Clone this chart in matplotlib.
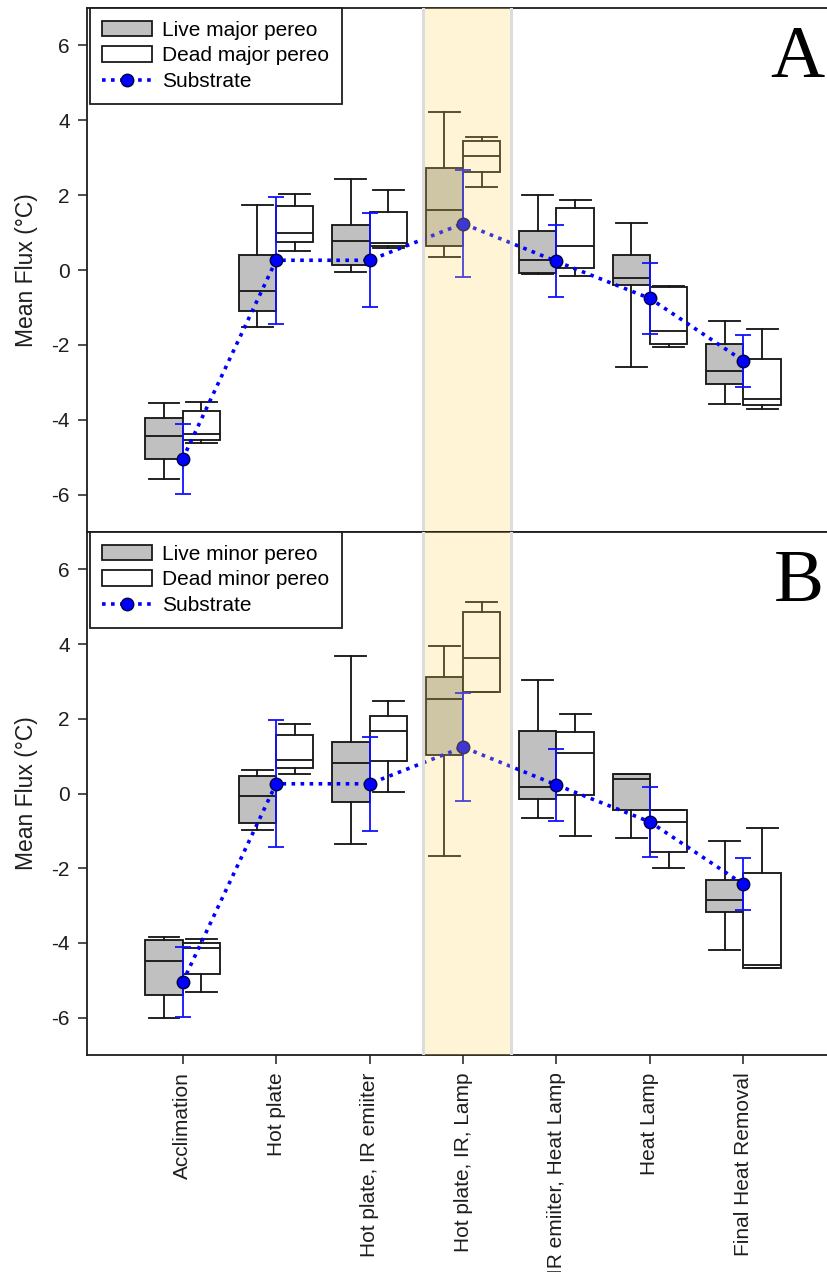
import matplotlib
matplotlib.use("Agg")
import matplotlib.pyplot as plt
from matplotlib.patches import Patch
from matplotlib.lines import Line2D

plt.rcParams["font.family"] = ["Liberation Sans", "DejaVu Sans"]
plt.rcParams["axes.unicode_minus"] = False

categories = ["Acclimation", "Hot plate", "Hot plate, IR emiiter", "Hot plate, IR, Lamp",
              "IR emiiter, Heat Lamp", "Heat Lamp", "Final Heat Removal"]

# Panel A - major pereo
live_major_whislo = [-5.59, -1.52, -0.06, 0.35, -0.12, -2.58, -3.57]
live_major_q1 = [-5.06, -1.09, 0.13, 0.64, -0.08, -0.40, -3.05]
live_major_med = [-4.43, -0.57, 0.78, 1.61, 0.26, -0.21, -2.70]
live_major_q3 = [-3.95, 0.39, 1.21, 2.73, 1.04, 0.39, -1.97]
live_major_whishi = [-3.56, 1.74, 2.43, 4.22, 2.00, 1.25, -1.36]

dead_major_whislo = [-4.63, 0.52, 0.60, 2.21, -0.17, -2.05, -3.71]
dead_major_q1 = [-4.55, 0.74, 0.63, 2.61, 0.05, -1.97, -3.62]
dead_major_med = [-4.37, 1.00, 0.72, 3.04, 0.65, -1.62, -3.44]
dead_major_q3 = [-3.77, 1.70, 1.55, 3.44, 1.65, -0.45, -2.39]
dead_major_whishi = [-3.52, 2.02, 2.13, 3.56, 1.87, -0.43, -1.57]

# Panel B - minor pereo
live_minor_whislo = [-6.01, -0.97, -1.35, -1.66, -0.65, -1.19, -4.18]
live_minor_q1 = [-5.40, -0.79, -0.23, 1.03, -0.14, -0.44, -3.17]
live_minor_med = [-4.48, -0.08, 0.82, 2.52, 0.17, 0.40, -2.84]
live_minor_q3 = [-3.91, 0.48, 1.38, 3.12, 1.68, 0.52, -2.31]
live_minor_whishi = [-3.85, 0.64, 3.68, 3.95, 3.04, 0.52, -1.27]

dead_minor_whislo = [-5.32, 0.52, 0.03, 2.73, -1.14, -2.00, -4.67]
dead_minor_q1 = [-4.84, 0.69, 0.86, 2.73, -0.05, -1.57, -4.67]
dead_minor_med = [-4.14, 0.91, 1.68, 3.64, 1.08, -0.75, -4.59]
dead_minor_q3 = [-4.01, 1.56, 2.08, 4.87, 1.64, -0.45, -2.13]
dead_minor_whishi = [-3.89, 1.86, 2.47, 5.12, 2.13, -0.45, -0.92]

# Substrate mean +/- error
substrate_mean = [-5.05, 0.26, 0.26, 1.24, 0.23, -0.76, -2.43]
substrate_err = [0.94, 1.70, 1.26, 1.44, 0.96, 0.94, 0.70]

legend_labels_A = ["Live major pereo", "Dead major pereo", "Substrate"]
legend_labels_B = ["Live minor pereo", "Dead minor pereo", "Substrate"]

W, H = 827, 1272
fig = plt.figure(figsize=(W / 100, H / 100), dpi=100)

left_px, right_px = 87.3, 835.0
def axes_rect(top_px, bot_px):
    return [left_px / W, 1 - bot_px / H, (right_px - left_px) / W, (bot_px - top_px) / H]

axA = fig.add_axes(axes_rect(8, 532))
axB = fig.add_axes(axes_rect(532, 1055))

positions = list(range(1, len(categories) + 1))
EDGE = "#1a1a1a"
LIVE_FC = "#c0c0c0"

def stats_list(wl, q1, med, q3, wh):
    return [dict(whislo=a, q1=b, med=c, q3=d, whishi=e, fliers=[])
            for a, b, c, d, e in zip(wl, q1, med, q3, wh)]

def draw_panel(ax, live, dead, labels, letter):
    lw = 1.35
    common = dict(widths=0.4, capwidths=0.33, patch_artist=True, showfliers=False,
                  medianprops=dict(color=EDGE, lw=lw),
                  whiskerprops=dict(color=EDGE, lw=lw),
                  capprops=dict(color=EDGE, lw=lw), manage_ticks=False)
    ax.bxp(stats_list(*live), positions=[p - 0.2 for p in positions],
           boxprops=dict(facecolor=LIVE_FC, edgecolor=EDGE, lw=lw), **common)
    ax.bxp(stats_list(*dead), positions=[p + 0.2 for p in positions],
           boxprops=dict(facecolor="white", edgecolor=EDGE, lw=lw), **common)
    ax.errorbar(positions, substrate_mean, yerr=substrate_err, fmt="none",
                ecolor="#1010ff", elinewidth=1.3, capsize=5.8, capthick=1.3, zorder=4)
    ax.plot(positions, substrate_mean, color="#0000ff", lw=2.6, ls=(0, (1, 1.5)),
            marker="o", ms=9, mfc="#0000ff", mec="#000040", mew=1.0, zorder=5)

    # highlighted period
    ax.axvspan(3.57, 4.51, color="#ffd85c", alpha=0.25, lw=0, zorder=10)
    for xv in (3.57, 4.51):
        ax.axvline(xv, color="#dcdce0", lw=2.2, zorder=10)

    ax.set_xlim(-0.02, 7.98)
    ax.set_ylim(-7, 7)
    ax.set_yticks([-6, -4, -2, 0, 2, 4, 6])
    ax.set_xticks(positions)
    ax.tick_params(axis="both", direction="out", length=6.5, width=1.1, pad=6,
                   labelsize=15, colors="#1e1e1e")
    for s in ax.spines.values():
        s.set_linewidth(1.3)
        s.set_color("#1e1e1e")
    ax.set_ylabel("Mean Flux (°C)", fontsize=16.5, color="#1e1e1e")
    ax.yaxis.set_label_coords(-0.066, 0.5)

    handles = [Patch(facecolor=LIVE_FC, edgecolor=EDGE, lw=1.3),
               Patch(facecolor="white", edgecolor=EDGE, lw=1.3),
               Line2D([0], [0], color="#0000ff", lw=2.6, ls=(0, (1, 1.5)),
                      marker="o", ms=9, mfc="#0000ff", mec="#000040")]
    leg = ax.legend(handles, labels, loc="upper left", bbox_to_anchor=(0.003, 1.0),
                    borderaxespad=0.0, fontsize=15, frameon=True, fancybox=False,
                    edgecolor="#1e1e1e", handlelength=2.4, handleheight=0.75,
                    handletextpad=0.5, labelspacing=0.33, borderpad=0.6,
                    framealpha=1.0)
    leg.get_frame().set_linewidth(1.3)
    leg.set_zorder(20)
    ax.text(824 / W, 0.868, letter, transform=ax.get_yaxis_transform() if False else
            matplotlib.transforms.blended_transform_factory(fig.transFigure, ax.transAxes),
            fontsize=54, family=["Liberation Serif", "DejaVu Serif"],
            ha="right", va="baseline", color="black")

draw_panel(axA,
           (live_major_whislo, live_major_q1, live_major_med, live_major_q3, live_major_whishi),
           (dead_major_whislo, dead_major_q1, dead_major_med, dead_major_q3, dead_major_whishi),
           legend_labels_A, "A")
draw_panel(axB,
           (live_minor_whislo, live_minor_q1, live_minor_med, live_minor_q3, live_minor_whishi),
           (dead_minor_whislo, dead_minor_q1, dead_minor_med, dead_minor_q3, dead_minor_whishi),
           legend_labels_B, "B")

axA.tick_params(axis="x", bottom=False, labelbottom=False)
axB.set_xticklabels(categories, rotation=90, ha="center", va="top")

fig.savefig("out.png", dpi=100)
